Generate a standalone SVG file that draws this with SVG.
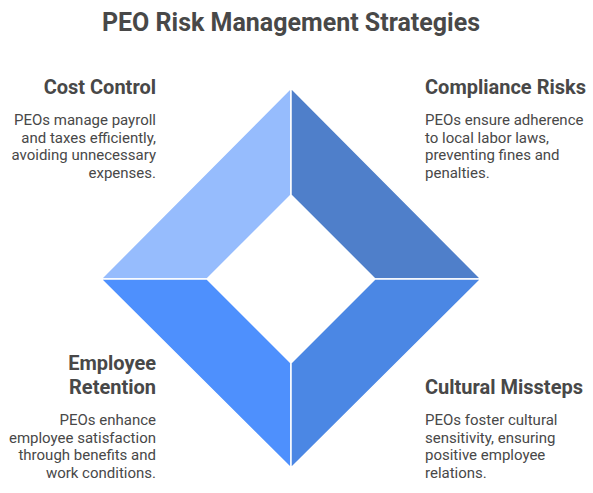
<svg xmlns="http://www.w3.org/2000/svg" width="593" height="493" viewBox="0 0 593 493">
<style>
.t{font-family:Roboto,"Liberation Sans",sans-serif;fill:#484848}
.h{font-size:20px;font-weight:bold}
.b{font-size:15px}
.r{text-anchor:end}
.seg{stroke:#ffffff;stroke-width:1.5;stroke-linejoin:miter}
</style>
<rect width="593" height="493" fill="#ffffff"/>
<text class="t" x="291" y="30.5" text-anchor="middle" font-size="25" font-weight="bold">PEO Risk Management Strategies</text>
<g id="cost-control">
<polygon class="seg" fill="#96BCFD" points="291,88 291,195 207,279 101,279"/>
<text class="t h r" x="156" y="94">Cost Control</text>
<text class="t b r" x="156" y="125">PEOs manage payroll</text>
<text class="t b r" x="156" y="142.6">and taxes efficiently,</text>
<text class="t b r" x="156" y="160.2">avoiding unnecessary</text>
<text class="t b r" x="156" y="177.8">expenses.</text>
</g>
<g id="compliance-risks">
<polygon class="seg" fill="#4F7FCA" points="291,88 481,279 375,279 291,195"/>
<text class="t h" x="425" y="94">Compliance Risks</text>
<text class="t b" x="425" y="125">PEOs ensure adherence</text>
<text class="t b" x="425" y="142.6">to local labor laws,</text>
<text class="t b" x="425" y="160.2">preventing fines and</text>
<text class="t b" x="425" y="177.8">penalties.</text>
</g>
<g id="employee-retention">
<polygon class="seg" fill="#4E90FD" points="101,279 207,279 291,363 291,468"/>
<text class="t h r" x="156" y="369.5">Employee</text>
<text class="t h r" x="156" y="393.5">Retention</text>
<text class="t b r" x="156" y="425">PEOs enhance</text>
<text class="t b r" x="156" y="442.6">employee satisfaction</text>
<text class="t b r" x="156" y="460.2">through benefits and</text>
<text class="t b r" x="156" y="477.8">work conditions.</text>
</g>
<g id="cultural-missteps">
<polygon class="seg" fill="#4B87E4" points="481,279 291,468 291,363 375,279"/>
<text class="t h" x="425" y="393.5">Cultural Missteps</text>
<text class="t b" x="425" y="425">PEOs foster cultural</text>
<text class="t b" x="425" y="442.6">sensitivity, ensuring</text>
<text class="t b" x="425" y="460.2">positive employee</text>
<text class="t b" x="425" y="477.8">relations.</text>
</g>
<g id="connectors"></g>
</svg>
